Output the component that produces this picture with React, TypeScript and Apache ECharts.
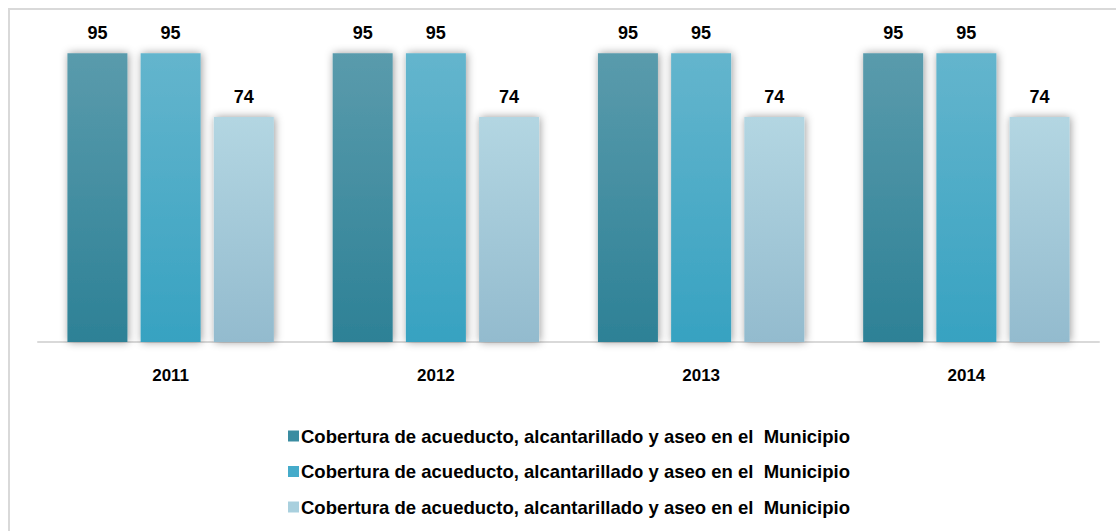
import React, { useEffect, useRef } from "react";
import * as echarts from "echarts";

const categories = ["2011", "2012", "2013", "2014"];
const seriesNames = [
  "Cobertura de acueducto, alcantarillado y aseo en el  Municipio",
  "Cobertura de acueducto, alcantarillado y aseo en el  Municipio ",
  "Cobertura de acueducto, alcantarillado y aseo en el  Municipio  ",
];
const valuesA = [95, 95, 95, 95];
const valuesB = [95, 95, 95, 95];
const valuesC = [74, 74, 74, 74];

const FONT = "Arial, 'Liberation Sans', sans-serif";

function grad(top: string, bottom: string) {
  return new echarts.graphic.LinearGradient(0, 0, 0, 1, [
    { offset: 0, color: top },
    { offset: 1, color: bottom },
  ]);
}

export default function App() {
  const ref = useRef<HTMLDivElement>(null);
  useEffect(() => {
    const chart = echarts.init(ref.current!, null, { renderer: "svg" });
    const colors = [
      ["#5a9bac", "#2d8196", "#3a8ca1"],
      ["#64b5cd", "#37a2c1", "#45abca"],
      ["#b3d6e2", "#93bbce", "#a9d0de"],
    ];
    const data = [valuesA, valuesB, valuesC];
    chart.setOption({
      animation: false,
      textStyle: { fontFamily: FONT },
      graphic: [
        {
          type: "rect",
          shape: { x: 9, y: 9, width: 1300, height: 700 },
          style: { fill: "none", stroke: "#d9d9d9", lineWidth: 2 },
          silent: true,
        },
      ],
      grid: { left: 38, right: 17, top: 38, bottom: 189, containLabel: false },
      xAxis: {
        type: "category",
        data: categories,
        axisLine: { lineStyle: { color: "#d9d9d9", width: 2 } },
        axisTick: { show: false },
        axisLabel: {
          color: "#000",
          fontWeight: "bold",
          fontSize: 17,
          fontFamily: FONT,
          margin: 25,
        },
      },
      yAxis: {
        type: "value",
        min: 0,
        max: 100,
        show: false,
        splitLine: { show: false },
      },
      legend: {
        orient: "vertical",
        left: 288,
        top: 426,
        padding: 0,
        itemWidth: 11,
        itemHeight: 11,
        itemGap: 15.5,
        icon: "rect",
        data: seriesNames.map((n, i) => ({
          name: n,
          itemStyle: { color: colors[i][2] },
        })),
        textStyle: {
          color: "#000",
          fontWeight: "bold",
          fontSize: 18.5,
          fontFamily: FONT,
          lineHeight: 20,
          padding: [0, 0, 0, -3],
        },
      },
      series: seriesNames.map((n, i) => ({
        name: n,
        type: "bar",
        data: data[i],
        barWidth: 60,
        barGap: "22%",
        itemStyle: {
          color: grad(colors[i][0], colors[i][1]),
          shadowColor: "rgba(0,0,0,0.4)",
          shadowBlur: 8,
          shadowOffsetX: 1,
          shadowOffsetY: 0,
        },
        label: {
          show: true,
          position: "top",
          distance: 11,
          color: "#000",
          fontWeight: "bold",
          fontSize: 18,
          fontFamily: FONT,
        },
      })),
    });
    return () => chart.dispose();
  }, []);
  return (
    <div
      ref={ref}
      style={{
        position: "fixed",
        left: 0,
        top: 0,
        width: 1116,
        height: 531,
        background: "#fff",
      }}
    />
  );
}
